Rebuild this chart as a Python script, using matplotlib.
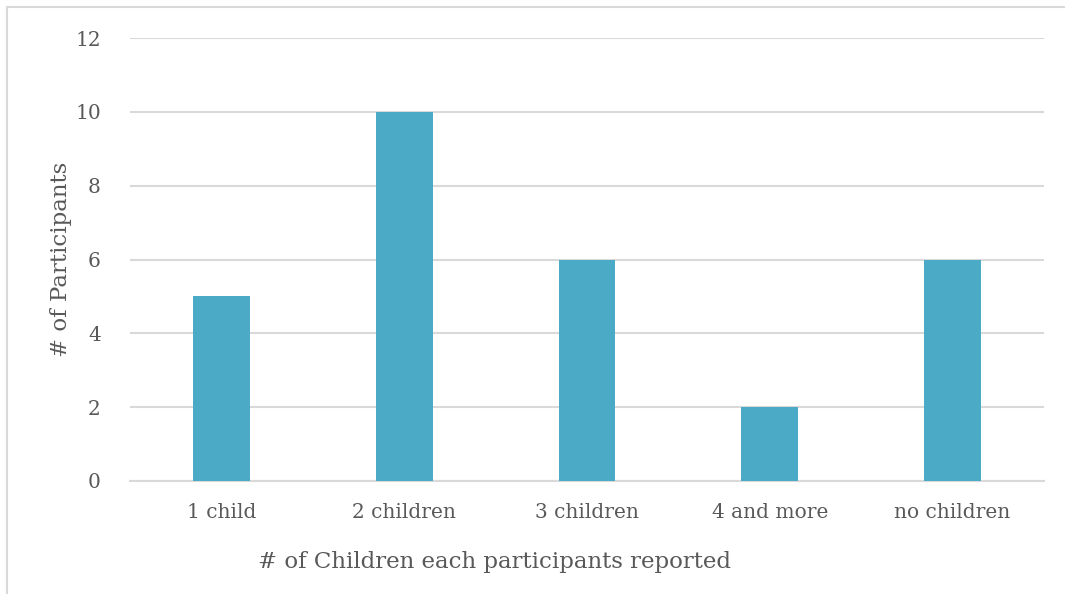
import matplotlib
matplotlib.use("Agg")
import matplotlib.pyplot as plt
from matplotlib.patches import Rectangle

categories = ["1 child", "2 children", "3 children", "4 and more", "no children"]
values = [5, 10, 6, 2, 6]
yticks = [0, 2, 4, 6, 8, 10, 12]

plt.rcParams['font.family'] = ['DejaVu Serif']
W, H = 1065, 594
fig = plt.figure(figsize=(W/100, H/100), dpi=100)
ax = fig.add_axes([130/W, 1-481/H, (1044-130)/W, (481-38)/H])

x = range(len(categories))
ax.bar(x, values, width=0.31, color="#4BAAC5", zorder=3)
ax.set_xlim(-0.5, len(categories)-0.5)
ax.set_ylim(0, 12)
ax.set_yticks(yticks)
ax.set_xticks(list(x))
ax.set_xticklabels(categories)
ax.grid(axis='y', color="#D9D9D9", linewidth=1.5, zorder=0)
for s in ['top', 'right', 'left']:
    ax.spines[s].set_visible(False)
ax.spines['bottom'].set_color("#D9D9D9")
ax.spines['bottom'].set_linewidth(1.5)
ax.tick_params(axis='both', length=0, colors="#595959", labelsize=14.5)
ax.tick_params(axis='y', pad=21)
ax.tick_params(axis='x', pad=16)
ax.set_ylabel("# of Participants", fontsize=16.5, color="#595959")
ax.set_xlabel("# of Children each participants reported", fontsize=16.5, color="#595959")
ax.xaxis.set_label_coords((495-130)/(1044-130), -(551-481)/(481-38))
ax.yaxis.set_label_coords(-(130-72)/(1044-130), 0.5)

fig.patches.append(Rectangle((7/W, -0.01), 1.0, 1-7/H+0.01, transform=fig.transFigure,
                             fill=False, edgecolor="#D9D9D9", linewidth=1.5))
fig.savefig("out.png", dpi=100)
